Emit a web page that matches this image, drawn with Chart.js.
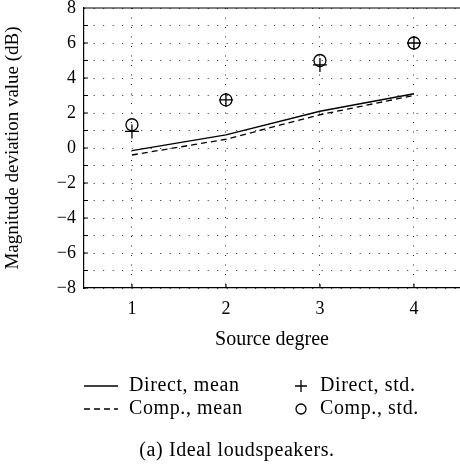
<!DOCTYPE html>
<html>
<head>
<meta charset="utf-8">
<script src="https://cdn.jsdelivr.net/npm/chart.js@4.4.1/dist/chart.umd.min.js"></script>
<style>
  html, body { margin: 0; padding: 0; background: #fff; }
  #wrap { width: 460px; height: 465px; }
</style>
</head>
<body>
<div id="wrap"><canvas id="chart" width="460" height="465"></canvas></div>
<script>
// source degree on the x axis
const degrees = [1, 2, 3, 4];
const directMean = [-0.15, 0.75, 2.1, 3.1];
const compMean = [-0.4, 0.5, 1.9, 3.0];
const directStd = [0.95, 2.75, 4.75, 6.0];
const compStd = [1.33, 2.75, 5.0, 6.0];
const yTicks = [-8, -6, -4, -2, 0, 2, 4, 6, 8];

const serif = "'Liberation Serif', 'Times New Roman', serif";

function pts(vals) {
  return degrees.map((d, i) => ({ x: d, y: vals[i] }));
}

const minus = v => (v < 0 ? '\u2212' + Math.abs(v) : String(v));

// frame, inward ticks, legend and caption
const extras = {
  id: 'extras',
  beforeInit(chart) {
    chart.ctx.letterSpacing = '0.4px';
  },
  afterDraw(chart) {
    const { ctx, chartArea: a } = chart;
    const xs = chart.scales.x, ys = chart.scales.y;
    ctx.save();
    ctx.strokeStyle = '#000';
    ctx.lineWidth = 1.2;
    ctx.beginPath();
    ctx.moveTo(a.left, a.top);
    ctx.lineTo(a.right, a.top);
    for (let v = -8; v <= 8; v++) {
      const y = ys.getPixelForValue(v);
      ctx.moveTo(a.left, y);
      ctx.lineTo(a.left + 4, y);
    }
    degrees.forEach(d => {
      const x = xs.getPixelForValue(d);
      ctx.moveTo(x, a.bottom);
      ctx.lineTo(x, a.bottom - 4);
    });
    ctx.stroke();

    // legend
    ctx.font = '20px ' + serif;
    ctx.letterSpacing = '0.6px';
    ctx.fillStyle = '#000';
    ctx.textBaseline = 'middle';
    ctx.textAlign = 'left';
    const r1 = 386, r2 = 409;
    ctx.lineWidth = 1.3;
    ctx.beginPath();
    ctx.moveTo(84, r1); ctx.lineTo(118, r1);
    ctx.stroke();
    ctx.setLineDash([6, 4]);
    ctx.beginPath();
    ctx.moveTo(84, r2); ctx.lineTo(118, r2);
    ctx.stroke();
    ctx.setLineDash([]);
    ctx.beginPath();
    ctx.moveTo(295, r1); ctx.lineTo(307, r1);
    ctx.moveTo(301, r1 - 6); ctx.lineTo(301, r1 + 6);
    ctx.stroke();
    ctx.beginPath();
    ctx.arc(301, r2, 5, 0, Math.PI * 2);
    ctx.stroke();
    const labels = chart.data.datasets.map(ds => ds.label);
    ctx.fillText(labels[0], 129, r1);
    ctx.fillText(labels[1], 129, r2);
    ctx.fillText(labels[2], 320, r1);
    ctx.fillText(labels[3], 320, r2);

    ctx.textAlign = 'center';
    ctx.fillText('(a) Ideal loudspeakers.', 237, 451);
    ctx.restore();
  }
};

new Chart(document.getElementById('chart'), {
  type: 'line',
  data: {
    datasets: [{
      label: 'Direct, mean',
      data: pts(directMean),
      borderColor: '#000',
      borderWidth: 1.3,
      pointRadius: 0,
      tension: 0
    }, {
      label: 'Comp., mean',
      data: pts(compMean),
      borderColor: '#000',
      borderWidth: 1.3,
      borderDash: [6, 4],
      pointRadius: 0,
      tension: 0
    }, {
      label: 'Direct, std.',
      data: pts(directStd),
      showLine: false,
      pointStyle: 'cross',
      pointRadius: 7,
      borderColor: '#000',
      borderWidth: 1.3
    }, {
      label: 'Comp., std.',
      data: pts(compStd),
      showLine: false,
      pointStyle: 'circle',
      pointRadius: 6,
      backgroundColor: 'rgba(0,0,0,0)',
      borderColor: '#000',
      borderWidth: 1.3
    }]
  },
  options: {
    responsive: false,
    animation: false,
    layout: { autoPadding: false, padding: { top: 8, right: 0, bottom: 105, left: 0 } },
    plugins: { legend: { display: false }, tooltip: { enabled: false } },
    scales: {
      x: {
        type: 'linear',
        min: 0.49,
        max: 4.49,
        afterFit(scale) {
          scale.height = 72;
          scale.paddingLeft = 0;
          scale.paddingRight = 0;
        },
        afterBuildTicks(scale) { scale.ticks = degrees.map(v => ({ value: v })); },
        ticks: {
          autoSkip: false,
          padding: 10,
          color: '#000',
          font: { family: serif, size: 18 },
          callback: v => String(v)
        },
        grid: { color: '#222', lineWidth: 1, drawTicks: false },
        border: { color: '#000', width: 1.2, dash: [1, 8.5] },
        title: {
          display: true,
          text: 'Source degree',
          color: '#000',
          font: { family: serif, size: 20 },
          padding: { top: 4, bottom: 8 }
        }
      },
      y: {
        min: -8,
        max: 8,
        afterFit(scale) {
          scale.width = 84;
          scale.paddingTop = 0;
          scale.paddingBottom = 0;
        },
        ticks: {
          stepSize: 1,
          autoSkip: false,
          padding: 8,
          color: '#000',
          font: { family: serif, size: 18 },
          callback: v => (yTicks.includes(v) ? minus(v) : '')
        },
        grid: { color: '#222', lineWidth: 1, drawTicks: false },
        border: { color: '#000', width: 1.2, dash: [1, 8.5] },
        title: {
          display: true,
          text: 'Magnitude deviation value (dB)',
          color: '#000',
          font: { family: serif, size: 19 },
          padding: { top: 2, bottom: 4 }
        }
      }
    }
  },
  plugins: [extras]
});
</script>
</body>
</html>
